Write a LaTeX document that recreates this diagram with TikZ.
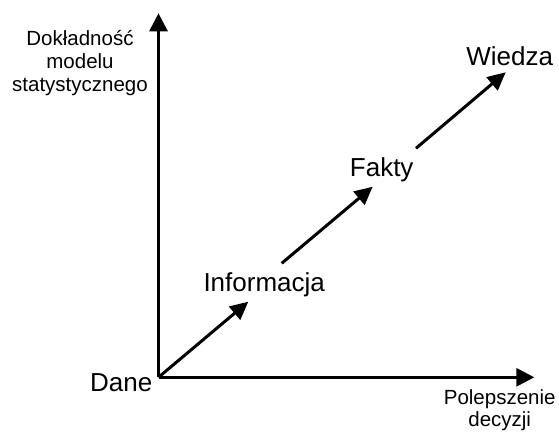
\documentclass[tikz,border=0pt]{standalone}
\usepackage{fontspec}
\setmainfont{Liberation Sans}
\usetikzlibrary{arrows.meta}
\begin{document}
\begin{tikzpicture}[x=1pt,y=-1pt,
  axisline/.style={line width=3pt,-{Triangle[length=18pt,width=18pt]}},
  steparrow/.style={line width=3pt,-{Triangle[length=18pt,width=17pt]}},
  biglabel/.style={anchor=base,inner sep=0pt,font=\fontsize{26}{30}\selectfont},
  smalllabel/.style={anchor=base,inner sep=0pt,font=\fontsize{20.5}{23}\selectfont}]
  \useasboundingbox (0,0) rectangle (559,432);
  % axes
  \coordinate (O) at (158.5,377.3);
  \coordinate (ytip) at (158.5,13.3);
  \coordinate (xtip) at (534.3,377.3);
  \draw[axisline] (O) -- (ytip);
  \draw[axisline] (O) -- (xtip);
  % axis labels
  \node[smalllabel] (yl1) at (80,45.7) {Dokładność};
  \node[smalllabel] (yl2) at (80,68.6) {modelu};
  \node[smalllabel] (yl3) at (80,91.2) {statystycznego};
  \node[smalllabel] (xl1) at (499.7,404) {Polepszenie};
  \node[smalllabel] (xl2) at (499.7,426.5) {decyzji};
  % stages
  \node[biglabel] (dane) at (121.2,391.6) {Dane};
  \node[biglabel] (info) at (264.2,291.7) {Informacja};
  \node[biglabel] (fakty) at (381.7,176.7) {Fakty};
  \node[biglabel] (wiedza) at (509.7,65) {Wiedza};
  % arrow end points between the stages
  \coordinate (a1e) at (248.3,301.7);
  \coordinate (a2s) at (281.7,263.3);
  \coordinate (a2e) at (372.7,186.7);
  \coordinate (a3s) at (416,148.3);
  \coordinate (a3e) at (505.7,72.3);
  \draw[steparrow] (O) -- (a1e);
  \draw[steparrow] (a2s) -- (a2e);
  \draw[steparrow] (a3s) -- (a3e);
\end{tikzpicture}
\end{document}
